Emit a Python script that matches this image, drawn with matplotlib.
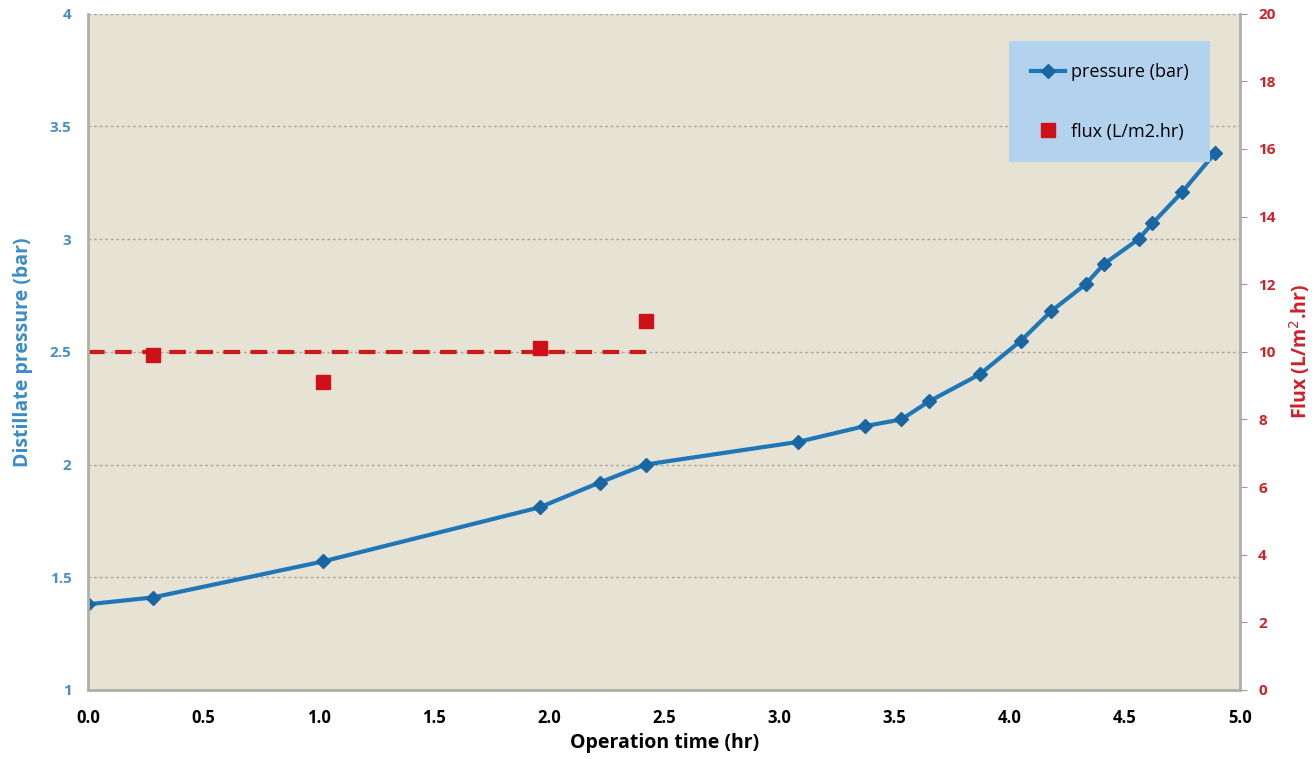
import matplotlib
matplotlib.use("Agg")
import matplotlib.pyplot as plt

# operation time (hr) and distillate pressure (bar)
time_hr = [0.0, 0.28, 1.02, 1.96, 2.22, 2.42, 3.08, 3.37, 3.53, 3.65,
           3.87, 4.05, 4.18, 4.33, 4.41, 4.56, 4.62, 4.75, 4.89]
pressure_bar = [1.38, 1.41, 1.57, 1.81, 1.92, 2.00, 2.10, 2.17, 2.20, 2.28,
                2.40, 2.55, 2.68, 2.80, 2.89, 3.00, 3.07, 3.21, 3.38]

# flux measurements (L/m2.hr)
flux_time = [0.28, 1.02, 1.96, 2.42]
flux_val = [9.9, 9.1, 10.1, 10.9]

# average flux line
avg_time = [0.0, 2.42]
avg_flux = [10.0, 10.0]

x_ticks = [0.0, 0.5, 1.0, 1.5, 2.0, 2.5, 3.0, 3.5, 4.0, 4.5, 5.0]
left_ticks = [1, 1.5, 2, 2.5, 3, 3.5, 4]
right_ticks = [0, 2, 4, 6, 8, 10, 12, 14, 16, 18, 20]

plt.rcParams['font.family'] = ['Open Sans', 'DejaVu Sans']

bg = '#e6e3d5'
blue = '#1f77b8'
red = '#cc1a1a'

fig = plt.figure(figsize=(13.15, 7.59), dpi=100)
ax = fig.add_axes([0.067, 0.091, 0.876, 0.891])
ax.set_facecolor(bg)
ax2 = ax.twinx()

ax.plot(time_hr, pressure_bar, color=blue, lw=3, marker='D', ms=7,
        mec='#1a66a3', mfc='#1a66a3', label='pressure (bar)', zorder=3)
ax2.plot(flux_time, flux_val, ls='none', marker='s', ms=10, color='#d01018',
         label='flux (L/m2.hr)', zorder=3)
ax2.plot(avg_time, avg_flux, ls=(0, (4, 2.5)), color=red, lw=3, zorder=2)

ax.set_xlim(0, 5)
ax.set_ylim(1, 4)
ax2.set_ylim(0, 20)

ax.set_xticks(x_ticks)
ax.set_xticklabels([f'{v:.1f}' for v in x_ticks], fontweight='bold', fontsize=12)
ax.set_yticks(left_ticks)
ax.set_yticklabels(['1', '1.5', '2', '2.5', '3', '3.5', '4'], color='#4a8fc4',
                   fontweight='bold', fontsize=11)
ax2.set_yticks(right_ticks)
ax2.set_yticklabels([str(v) for v in right_ticks], color='#d0202a',
                    fontweight='bold', fontsize=11)

ax.tick_params(axis='x', length=0, pad=14)
ax.tick_params(axis='y', length=0, pad=12)
ax2.tick_params(axis='y', length=5, color='#999999', pad=8)

ax.yaxis.grid(True, ls=(0, (2, 2)), color='#a8a8a0', lw=1)
ax.set_axisbelow(True)

for sp in ['top']:
    ax.spines[sp].set_visible(False)
    ax2.spines[sp].set_visible(False)
for sp in ['left', 'right', 'bottom']:
    ax2.spines[sp].set_color('#b0b0a8')
    ax2.spines[sp].set_linewidth(2)

ax.set_xlabel('Operation time (hr)', fontweight='bold', fontsize=14, labelpad=4)
ax.set_ylabel('Distillate pressure (bar)', fontweight='bold', fontsize=14,
              color='#3a8cc8', labelpad=12)
ax2.set_ylabel('Flux (L/m$^2$.hr)', fontweight='bold', fontsize=14,
               color='#d0202a', labelpad=8)

h1, l1 = ax.get_legend_handles_labels()
h2, l2 = ax2.get_legend_handles_labels()
leg = ax2.legend(h1 + h2, l1 + l2, loc='upper right',
                 bbox_to_anchor=(0.974, 0.959), frameon=True, fancybox=False,
                 fontsize=13, handlelength=1.9, labelspacing=2.3,
                 borderpad=1.2, handletextpad=0.3, borderaxespad=0)
leg.get_frame().set_facecolor('#b3d2ee')
leg.get_frame().set_edgecolor('none')
leg.get_frame().set_alpha(1)

fig.savefig('out.png', dpi=100, facecolor='white')
